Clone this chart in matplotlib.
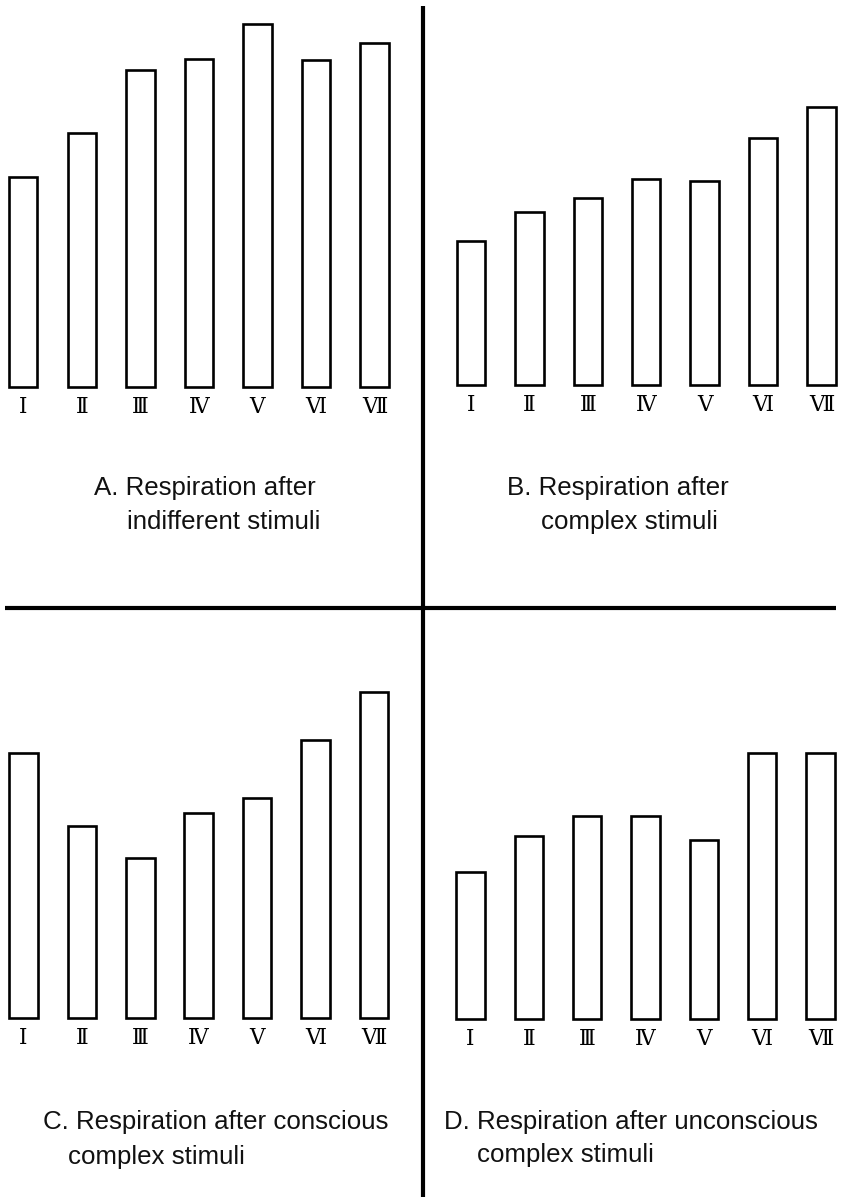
import matplotlib
matplotlib.use("Agg")
import matplotlib.pyplot as plt
from matplotlib.lines import Line2D

# ---- data (bar heights, arbitrary units) ----
numerals = ["Ⅰ", "Ⅱ", "Ⅲ", "Ⅳ", "Ⅴ", "Ⅵ", "Ⅶ"]
heights_a = [210, 254, 317, 328, 363, 327, 344]
heights_b = [144, 173, 187, 206, 204, 247, 278]
heights_c = [265, 192, 160, 205, 220, 278, 326]
heights_d = [147, 183, 203, 203, 179, 266, 266]

title_a = ("A. Respiration after", "indifferent stimuli")
title_b = ("B. Respiration after", "complex stimuli")
title_c = ("C. Respiration after conscious", "complex stimuli")
title_d = ("D. Respiration after unconscious", "complex stimuli")

W, H = 845, 1197
fig = plt.figure(figsize=(W / 100, H / 100), dpi=100)
fig.patch.set_facecolor("white")

def fx(px):
    return px / W

def fy(py):
    return 1 - py / H

def panel(heights, x_left, x_right, c0, c6, y_top, y_base):
    ax = fig.add_axes([fx(x_left), fy(y_base), fx(x_right - x_left), (y_base - y_top) / H])
    scale = (c6 - c0) / 6.0
    ax.set_xlim((x_left - c0) / scale, (x_right - c0) / scale)
    ax.set_ylim(0, y_base - y_top)
    ax.bar(range(len(heights)), heights, width=28.5 / scale, facecolor="white",
           edgecolor="black", linewidth=1.9)
    ax.set_xticks(range(len(numerals)))
    ax.set_xticklabels(numerals, fontfamily="DejaVu Serif", fontsize=15.5)
    ax.tick_params(axis="x", length=0, pad=6.5)
    ax.set_yticks([])
    for s in ax.spines.values():
        s.set_visible(False)
    ax.patch.set_alpha(0)
    for p in ax.patches:
        p.set_clip_on(False)
    return ax

panel(heights_a, 0, 422.5, 23.2, 374.5, 0, 387)
panel(heights_b, 422.5, 845, 471.0, 821.5, 0, 385)
panel(heights_c, 0, 422.5, 23.4, 374.0, 612, 1018)
panel(heights_d, 422.5, 845, 470.5, 820.5, 612, 1019)

tfont = dict(fontfamily="Liberation Sans", fontsize=18.6, color="#111111",
             ha="left", va="center")

def title(lines, x1, y1, x2, y2):
    fig.text(fx(x1), fy(y1), lines[0], **tfont)
    fig.text(fx(x2), fy(y2), lines[1], **tfont)

title(title_a, 94, 488, 127, 522)
title(title_b, 507, 488, 541, 522)
title(title_c, 43, 1122, 68, 1157)
title(title_d, 444, 1122, 477, 1155)

# divider lines
fig.add_artist(Line2D([fx(423), fx(423)], [fy(6), fy(1197)], color="black", lw=3.0,
                      solid_capstyle="butt"))
fig.add_artist(Line2D([fx(5), fx(836)], [fy(608), fy(608)], color="black", lw=3.0,
                      solid_capstyle="butt"))

fig.savefig("out.png", dpi=100, facecolor="white")
